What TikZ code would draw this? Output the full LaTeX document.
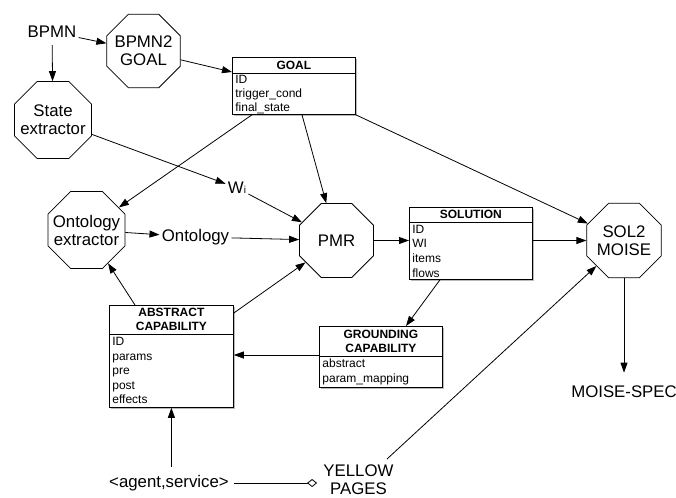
\documentclass[tikz,border=0pt]{standalone}
\usepackage{fontspec}
\setmainfont{Liberation Sans}
\usetikzlibrary{shapes.geometric,arrows.meta,calc,shadows}

\begin{document}
\begin{tikzpicture}[x=1pt,y=-1pt,
  line width=0.8pt,
  conn/.style={-{Triangle[length=10pt,width=7pt]}},
  octa/.style={regular polygon, regular polygon sides=8, draw, inner sep=0pt},
  octatext/.style={align=center, inner sep=0pt, font=\fontsize{16.8}{18}\selectfont},
  lbl/.style={font=\fontsize{16.8}{18}\selectfont, inner sep=2pt},
  umlbox/.style={draw, fill=white, anchor=north west, inner sep=0pt,
    drop shadow={shadow xshift=1.5pt, shadow yshift=-1.5pt, opacity=0.45, fill=black!60}},
  head/.style={font=\bfseries\fontsize{12}{14}\selectfont, inner sep=0pt, align=center},
  item/.style={font=\fontsize{12}{14}\selectfont, anchor=base west, inner sep=0pt},
]
\useasboundingbox (0,0) rectangle (676,497);

% octagonal process nodes (caption set as a centred label)
\node[octa, minimum size=79.5pt, label={[octatext]center:BPMN2\\GOAL}] (bpmn2goal) at (143.5,51) {};
\node[octa, minimum size=83.3pt, label={[octatext]center:State\\extractor}] (state) at (53,120) {};
\node[octa, minimum size=83.3pt, label={[octatext]center:Ontology\\extractor}] (ontoext) at (86.5,230) {};
\node[octa, minimum size=80pt, label={[octatext]center:PMR}] (pmr) at (336.5,240.5) {};
\node[octa, minimum size=80.5pt, label={[octatext]center:SOL2\\MOISE}] (sol2) at (624,240.5) {};

% plain labels
\node[lbl] (bpmn) at (52,32) {BPMN};
\node[lbl] (wi) at (237,188) {W{\fontsize{10}{12}\selectfont i}};
\node[lbl] (onto) at (195.5,237) {Ontology};
\node[lbl] (moise) at (624,392) {MOISE-SPEC};
\node[lbl] (agent) at (169,483) {<agent,service>};
\node[lbl, align=center] (yellow) at (358.5,480) {YELLOW\\PAGES};

% GOAL record
\node[umlbox, minimum width=123pt, minimum height=57pt] (goal) at (232,57) {};
\draw ($(goal.north west)+(0,16)$) -- ($(goal.north east)+(0,16)$);
\node[head, anchor=base] (goalh) at ($(goal.north)+(0,12.3)$) {GOAL};
\node[item] (goal1) at ($(goal.north west)+(3,27)$) {ID};
\node[item] (goal2) at ($(goal.north west)+(3,41)$) {trigger\_cond};
\node[item] (goal3) at ($(goal.north west)+(3,55)$) {final\_state};

% SOLUTION record
\node[umlbox, minimum width=123pt, minimum height=72pt] (solution) at (409,207) {};
\draw ($(solution.north west)+(0,15)$) -- ($(solution.north east)+(0,15)$);
\node[head, anchor=base] (solh) at ($(solution.north)+(0,11.8)$) {SOLUTION};
\node[item] (sol1) at ($(solution.north west)+(3,26)$) {ID};
\node[item] (sol2i) at ($(solution.north west)+(3,40.5)$) {WI};
\node[item] (sol3) at ($(solution.north west)+(3,55)$) {items};
\node[item] (sol4) at ($(solution.north west)+(3,70)$) {flows};

% ABSTRACT CAPABILITY record
\node[umlbox, minimum width=124pt, minimum height=102pt] (abstract) at (109,305) {};
\draw ($(abstract.north west)+(0,29)$) -- ($(abstract.north east)+(0,29)$);
\node[head] (absh) at ($(abstract.north)+(0,14)$) {ABSTRACT\\CAPABILITY};
\node[item] (abs1) at ($(abstract.north west)+(3,40)$) {ID};
\node[item] (abs2) at ($(abstract.north west)+(3,55)$) {params};
\node[item] (abs3) at ($(abstract.north west)+(3,69)$) {pre};
\node[item] (abs4) at ($(abstract.north west)+(3,84)$) {post};
\node[item] (abs5) at ($(abstract.north west)+(3,98)$) {effects};

% GROUNDING CAPABILITY record
\node[umlbox, minimum width=123pt, minimum height=61pt] (grounding) at (319,326) {};
\draw ($(grounding.north west)+(0,30)$) -- ($(grounding.north east)+(0,30)$);
\node[head] (grh) at ($(grounding.north)+(0,15)$) {GROUNDING\\CAPABILITY};
\node[item] (gr1) at ($(grounding.north west)+(3,41)$) {abstract};
\node[item] (gr2) at ($(grounding.north west)+(3,56)$) {param\_mapping};

\coordinate (yp) at (387,459);

% connectors
\draw[conn] (bpmn) -- (bpmn2goal);
\draw[conn, shorten <=5pt] (bpmn) -- (state);
\draw[conn] (bpmn2goal) -- ($(goal.north west)+(0,15)$);
\draw[conn] ($(goal.south west)+(20,0)$) -- (ontoext);
\draw[conn] ($(goal.south west)+(70,0)$) -- (pmr);
\draw[conn] (goal.south east) -- (sol2);
\draw[conn] (state) -- (wi);
\draw[conn] (wi) -- (pmr);
\draw[conn] (ontoext) -- (onto);
\draw[conn] (onto) -- (pmr);
\draw[conn] ($(abstract.north west)+(26,0)$) -- (ontoext);
\draw[conn] ($(abstract.north east)+(0,8)$) -- (pmr);
\draw[conn] (pmr.east) -- (solution.west |- pmr.east);
\draw[conn] (solution.east |- sol2.west) -- (sol2.west);
\draw[conn] ($(solution.south west)+(31,0)$) -- ($(grounding.north west)+(87,0)$);
\draw[conn] ($(grounding.north west)+(0,29)$) -- ($(abstract.north east)+(0,50)$);
\draw[conn] ($(agent.north -| abstract.south)+(0,-6)$) -- (abstract.south);
\draw[-{Diamond[open,fill=white,length=10pt,width=8pt]}, shorten <=3pt, shorten >=4pt]
  (agent.east) -- (yellow.west |- agent.east);
\draw[conn] (yp) -- (sol2);
\draw[conn] (sol2.south) -- ($(moise.north)+(0,-11)$);
\end{tikzpicture}
\end{document}
